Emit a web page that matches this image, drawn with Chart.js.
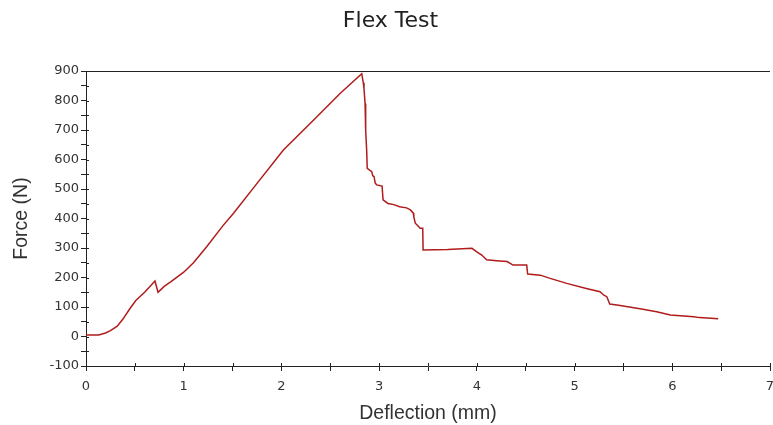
<!DOCTYPE html>
<html>
<head>
<meta charset="utf-8">
<script src="https://cdn.jsdelivr.net/npm/chart.js@4.4.1/dist/chart.umd.min.js"></script>
<style>
  html, body { margin: 0; padding: 0; background: #fff; }
  #wrap { width: 773px; height: 425px; }
</style>
</head>
<body>
<div id="wrap"><canvas id="flexChart" width="773" height="425"></canvas></div>
<script>
// deflection (mm) / force (N)
const deflection = [
    0, 0.13, 0.2, 0.25, 0.32, 0.38, 0.45, 0.51, 0.6, 0.706, 0.737, 0.8, 0.87, 1.0, 1.1,
    1.235, 1.4, 1.51, 1.7, 2.02, 2.33, 2.6, 2.822,
    2.838, 2.845, 2.856, 2.862, 2.873, 2.878, 2.924, 2.935, 2.948, 2.96, 2.975, 3.03, 3.04,
    3.09, 3.15, 3.21, 3.28, 3.32, 3.35, 3.355, 3.37, 3.42, 3.446, 3.45, 3.7, 3.95,
    4.0, 4.05, 4.1, 4.2, 4.31, 4.37, 4.51, 4.52, 4.65, 4.75, 4.92, 5.12, 5.26, 5.3,
    5.33, 5.36, 5.45, 5.67, 5.84, 5.98, 6.22, 6.28, 6.47
];
const force = [
    5, 5, 12, 20, 35, 60, 95, 122, 150, 188, 150, 170, 186, 218, 250,
    304, 375, 418, 498, 632, 734, 824, 891,
    860, 841, 790, 700, 626, 570, 559, 545, 542, 520, 514, 510, 463,
    451, 447, 440, 436, 429, 418, 405, 384, 367, 367, 293, 295, 299,
    287, 276, 260, 257, 254, 242, 242, 212, 208, 197, 180, 163, 152, 140,
    135, 110, 106, 94, 84, 73, 67, 64, 60
];

const xMin = 0, xMax = 7, xStep = 0.5;
const yMin = -100, yMax = 900, yStep = 50;

const points = deflection.map((d, i) => ({ x: d, y: force[i] }));

// ticks in the reference cross the axis: draw the inner half too, plus the top frame line
const innerTicks = {
    id: "innerTicks",
    afterDraw(chart) {
        const c = chart.ctx;
        const area = chart.chartArea;
        c.save();
        c.strokeStyle = "#222";
        c.lineWidth = 1;
        c.beginPath();
        chart.scales.x.ticks.forEach(t => {
            const px = Math.round(chart.scales.x.getPixelForValue(t.value)) + 0.5;
            c.moveTo(px, area.bottom);
            c.lineTo(px, area.bottom - 3);
        });
        chart.scales.y.ticks.forEach(t => {
            const py = Math.round(chart.scales.y.getPixelForValue(t.value)) + 0.5;
            c.moveTo(area.left, py);
            c.lineTo(area.left + 3, py);
        });
        c.moveTo(area.left, Math.round(area.top) + 0.5);
        c.lineTo(area.right, Math.round(area.top) + 0.5);
        c.stroke();
        c.restore();
    }
};

const ctx = document.getElementById("flexChart").getContext("2d");
new Chart(ctx, {
    type: "scatter",
    data: {
        datasets: [{
            label: "Force",
            data: points,
            showLine: true,
            borderColor: "#b01c1c",
            borderWidth: 1.5,
            pointRadius: 0,
            tension: 0,
            fill: false
        }]
    },
    options: {
        responsive: false,
        animation: false,
        layout: { padding: { left: 8, right: 0, top: 0, bottom: 0 } },
        plugins: {
            legend: { display: false },
            tooltip: { enabled: false },
            title: {
                display: true,
                text: "Flex Test",
                color: "#222",
                font: { family: "DejaVu Sans", size: 22, weight: "normal" },
                padding: { top: 8, bottom: 36.6 }
            }
        },
        scales: {
            x: {
                type: "linear",
                min: xMin,
                max: xMax,
                afterFit: s => { s.height = 59; s.paddingRight = 3; s.paddingLeft = 0; },
                border: { display: true, color: "#222", width: 1 },
                grid: { display: true, drawOnChartArea: false, tickLength: 5, color: "#222" },
                ticks: {
                    stepSize: xStep,
                    autoSkip: false,
                    maxRotation: 0,
                    padding: 8,
                    color: "#333",
                    font: { family: "DejaVu Sans", size: 13 },
                    callback: v => (Number.isInteger(v) ? v : "")
                },
                title: {
                    display: true,
                    text: "Deflection (mm)",
                    color: "#333",
                    font: { family: "Liberation Sans", size: 19.5 },
                    padding: { top: 0, bottom: 0 }
                }
            },
            y: {
                type: "linear",
                min: yMin,
                max: yMax,
                afterFit: s => { s.width = 78; },
                border: { display: true, color: "#222", width: 1 },
                grid: { display: true, drawOnChartArea: false, tickLength: 5, color: "#222" },
                ticks: {
                    stepSize: yStep,
                    autoSkip: false,
                    padding: 2,
                    color: "#333",
                    font: { family: "DejaVu Sans", size: 13 },
                    callback: v => (v % 100 === 0 ? v : "")
                },
                title: {
                    display: true,
                    text: "Force (N)",
                    color: "#333",
                    font: { family: "Liberation Sans", size: 19.5 },
                    padding: { top: 2, bottom: 0 }
                }
            }
        }
    },
    plugins: [innerTicks]
});
</script>
</body>
</html>
